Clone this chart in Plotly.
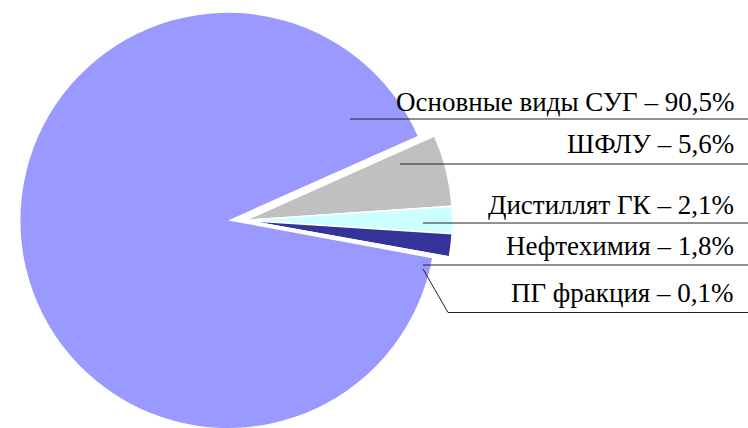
import plotly.graph_objects as go

# ---- data ----
labels = ["Основные виды СУГ", "ШФЛУ", "Дистиллят ГК", "Нефтехимия", "ПГ фракция"]
values = [90.5, 5.6, 2.1, 1.8, 0.1]
colors = ["#9999FF", "#C0C0C0", "#CCFFFF", "#333399", "#993366"]

W, H = 748, 428
TRANSPARENT = "rgba(0,0,0,0)"

fig = go.Figure()

# main slice (not exploded)
fig.add_trace(go.Pie(
    labels=labels, values=values, sort=False, direction="clockwise",
    rotation=100.5,
    marker=dict(colors=[colors[0]] + [TRANSPARENT] * (len(values) - 1),
                line=dict(width=0)),
    textinfo="none", hoverinfo="skip", showlegend=False,
    domain=dict(x=[0, 456 / W], y=[0, 0.97]),
))

# small slices, exploded to the right
fig.add_trace(go.Pie(
    labels=labels, values=values, sort=False, direction="clockwise",
    rotation=100.5,
    marker=dict(colors=[TRANSPARENT] + colors[1:],
                line=dict(color=[TRANSPARENT] + ["white"] * (len(values) - 1), width=1.5)),
    textinfo="none", hoverinfo="skip", showlegend=False,
    domain=dict(x=[17 / W, 473 / W], y=[0, 0.97]),
))

# label leader lines and text baselines (pixel positions)
line_y = [119, 164, 223, 265, 312.5]
line_x0 = [350, 400, 423, 423, 448]
text_base = [112, 154, 215, 256, 302.5]
text_right = 735


def px(x):
    return x / W


def py(y):
    return 1 - y / H


shapes = []
for ly, lx in zip(line_y, line_x0):
    shapes.append(dict(type="line", xref="paper", yref="paper",
                       x0=px(lx), x1=px(W), y0=py(ly), y1=py(ly),
                       line=dict(color="#222222", width=1)))
# diagonal leader for the smallest slice
shapes.append(dict(type="line", xref="paper", yref="paper",
                   x0=px(423), y0=py(269), x1=px(448), y1=py(312.5),
                   line=dict(color="#222222", width=1)))

annotations = []
fs = 27
for lab, val, tb in zip(labels, values, text_base):
    txt = f"{lab} – {val:.1f}%".replace(".", ",")
    annotations.append(dict(
        text=txt, xref="paper", yref="paper",
        x=px(text_right), y=py(tb + 0.23 * fs), xanchor="right", yanchor="bottom",
        showarrow=False, borderpad=0,
        font=dict(family="Liberation Serif, Times New Roman, serif", size=fs, color="#000000"),
    ))

fig.update_layout(
    width=W, height=H,
    margin=dict(l=0, r=0, t=0, b=0),
    paper_bgcolor="white", plot_bgcolor="white",
    shapes=shapes, annotations=annotations,
)

fig.write_html("out.html",
               config={"displayModeBar": False},
               post_script="document.body.style.margin='0px';document.body.style.overflow='hidden';")
